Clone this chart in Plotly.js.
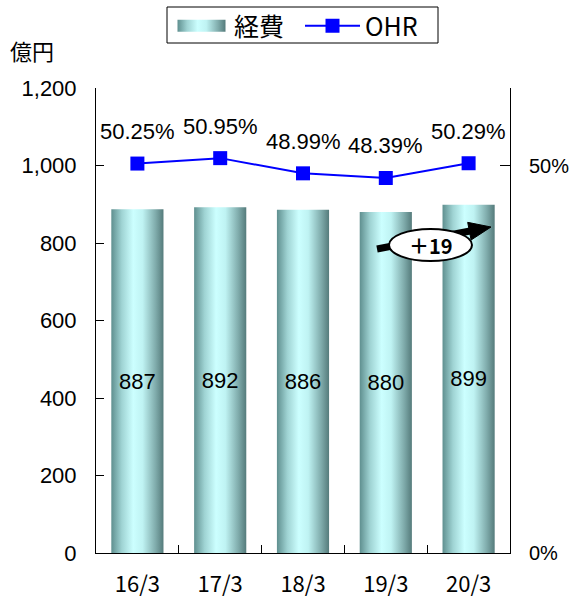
<!DOCTYPE html>
<html>
<head>
<meta charset="utf-8">
<script src="https://cdn.plot.ly/plotly-3.0.1.min.js"></script>
<style>
  html, body { margin: 0; padding: 0; background: #fff; }
  #chart { width: 573px; height: 603px; }
</style>
</head>
<body>
<div id="chart"></div>
<script>
// ---- data ----
const categories = ['16/3', '17/3', '18/3', '19/3', '20/3'];
const expenses = [887, 892, 886, 880, 899];          // 経費 (億円)
const ohr = [50.25, 50.95, 48.99, 48.39, 50.29];      // OHR (%)
const ohrLabels = ['50.25%', '50.95%', '48.99%', '48.39%', '50.29%'];
const leftTicks = [0, 200, 400, 600, 800, 1000, 1200];
const rightTickVals = [0, 50];
const rightTickText = ['0%', '50%'];
const diffLabel = '＋19';

// ---- geometry of plot area (px) ----
const W = 573, H = 603;
const M = {l: 96, r: 63, t: 88, b: 50};
const PW = W - M.l - M.r, PH = H - M.t - M.b;
const px = x => (x - M.l) / PW;        // pixel -> paper x
const py = y => (H - M.b - y) / PH;    // pixel -> paper y

const FONT = 'Liberation Sans, Arial, sans-serif';
const JFONT = 'Noto Sans CJK JP, sans-serif';

const barTrace = {
  type: 'bar',
  name: '経費',
  x: categories,
  y: expenses,
  text: expenses.map(String),
  textposition: 'inside',
  insidetextanchor: 'middle',
  textangle: 0,
  constraintext: 'none',
  insidetextfont: {family: FONT, size: 22, color: '#000'},
  marker: {color: '#a8dede', line: {width: 0}},
  width: 0.63,
  hoverinfo: 'skip'
};

const lineTrace = {
  type: 'scatter',
  mode: 'lines+markers',
  name: 'OHR',
  x: categories,
  y: ohr,
  yaxis: 'y2',
  line: {color: '#0000ff', width: 2},
  marker: {symbol: 'square', size: 14, color: '#0000ff'},
  hoverinfo: 'skip'
};

// OHR value labels
const annotations = categories.map((c, i) => ({
  x: c, y: ohr[i], xref: 'x', yref: 'y2',
  text: ohrLabels[i], showarrow: false,
  yshift: 32,
  font: {family: FONT, size: 22, color: '#000'}
}));

// unit label
annotations.push({
  xref: 'paper', yref: 'paper', x: px(8), y: py(50),
  xanchor: 'left', yanchor: 'middle',
  text: '億円', showarrow: false,
  font: {family: JFONT, size: 22, color: '#000'}
});

// +19 label
annotations.push({
  xref: 'paper', yref: 'paper', x: px(431), y: py(245),
  xanchor: 'center', yanchor: 'middle',
  text: '<b>' + diffLabel + '</b>', showarrow: false,
  font: {family: JFONT, size: 20, color: '#000'}
});

// arrow (shaft + head) and ellipse
const tail = [377, 249], tip = [491, 227];
const dx = tip[0] - tail[0], dy = tip[1] - tail[1];
const L = Math.hypot(dx, dy), ux = dx / L, uy = dy / L;
const headLen = 22, headHalf = 9;
const base = [tip[0] - ux * headLen, tip[1] - uy * headLen];
const b1 = [base[0] - uy * headHalf, base[1] + ux * headHalf];
const b2 = [base[0] + uy * headHalf, base[1] - ux * headHalf];
const shapes = [
  {type: 'line', xref: 'paper', yref: 'paper', layer: 'above',
   x0: px(tail[0]), y0: py(tail[1]), x1: px(base[0] + ux * 2), y1: py(base[1] + uy * 2),
   line: {color: '#000', width: 7}},
  {type: 'path', xref: 'paper', yref: 'paper', layer: 'above',
   path: `M${px(tip[0])},${py(tip[1])} L${px(b1[0])},${py(b1[1])} L${px(b2[0])},${py(b2[1])} Z`,
   fillcolor: '#000', line: {color: '#000', width: 1}},
  {type: 'circle', xref: 'paper', yref: 'paper', layer: 'above',
   x0: px(389), x1: px(472), y0: py(229), y1: py(261),
   fillcolor: '#fff', line: {color: '#000', width: 2}},
  // legend frame
  {type: 'rect', xref: 'paper', yref: 'paper', layer: 'above',
   x0: px(167), x1: px(438), y0: py(7), y1: py(43),
   fillcolor: 'rgba(0,0,0,0)', line: {color: '#000', width: 1}}
];

const layout = {
  width: W, height: H,
  margin: {l: M.l, r: M.r, t: M.t, b: M.b, pad: 0},
  paper_bgcolor: '#fff', plot_bgcolor: '#fff',
  font: {family: FONT, color: '#000'},
  showlegend: true,
  legend: {
    orientation: 'h', xref: 'container', yref: 'container',
    x: 169 / W, xanchor: 'left', y: 1 - 26 / H, yanchor: 'middle',
    borderwidth: 0, bgcolor: 'rgba(0,0,0,0)',
    font: {family: JFONT, size: 25, color: '#000'},
    itemwidth: 55, entrywidth: 61, entrywidthmode: 'pixels',
    traceorder: 'normal'
  },
  xaxis: {
    type: 'category',
    showline: true, linecolor: '#000', linewidth: 1,
    ticks: 'inside', tickson: 'boundaries', ticklen: 8, tickcolor: '#000',
    tickfont: {family: JFONT, size: 22, color: '#000'},
    ticklabelstandoff: 12,
    showgrid: false, zeroline: false, fixedrange: true
  },
  yaxis: {
    range: [0, 1200], tickvals: leftTicks, tickformat: ',',
    showline: true, linecolor: '#000', linewidth: 1,
    ticks: 'inside', ticklen: 8, tickcolor: '#000',
    tickfont: {family: FONT, size: 22, color: '#000'},
    ticklabelstandoff: 14,
    showgrid: false, zeroline: false, fixedrange: true
  },
  yaxis2: {
    overlaying: 'y', side: 'right', range: [0, 60],
    tickvals: rightTickVals, ticktext: rightTickText,
    showline: true, linecolor: '#000', linewidth: 1,
    ticks: 'inside', ticklen: 10, tickcolor: '#000',
    tickfont: {family: FONT, size: 20, color: '#000'},
    ticklabelstandoff: 14,
    showgrid: false, zeroline: false, fixedrange: true
  },
  annotations: annotations,
  shapes: shapes
};

Plotly.newPlot('chart', [barTrace, lineTrace], layout, {staticPlot: true, displayModeBar: false}).then(gd => {
  const NS = 'http://www.w3.org/2000/svg';
  const svg = gd.querySelector('svg.main-svg');
  let defs = svg.querySelector('defs');
  if (!defs) { defs = document.createElementNS(NS, 'defs'); svg.insertBefore(defs, svg.firstChild); }
  const lg = document.createElementNS(NS, 'linearGradient');
  lg.setAttribute('id', 'barGrad');
  lg.setAttribute('x1', '0'); lg.setAttribute('y1', '0');
  lg.setAttribute('x2', '1'); lg.setAttribute('y2', '0');
  [['0', '#5f8f8f'], ['0.2', '#9fd3d3'], ['0.42', '#ccffff'], ['0.6', '#bff3f3'], ['0.85', '#7fabab'], ['1', '#557b7b']]
    .forEach(([o, c]) => {
      const s = document.createElementNS(NS, 'stop');
      s.setAttribute('offset', o); s.setAttribute('stop-color', c);
      lg.appendChild(s);
    });
  defs.appendChild(lg);
  gd.querySelectorAll('.barlayer .point path').forEach(p => { p.style.fill = 'url(#barGrad)'; });
  const legTraces = gd.querySelectorAll('.legend .traces');
  if (legTraces.length) {
    const p = legTraces[0].querySelector('.legendpoints path');
    if (p) {
      p.setAttribute('d', 'M24,6H-24V-6H24Z');
      p.style.fill = 'url(#barGrad)';
      p.style.stroke = 'none';
    }
  }
});
</script>
</body>
</html>
